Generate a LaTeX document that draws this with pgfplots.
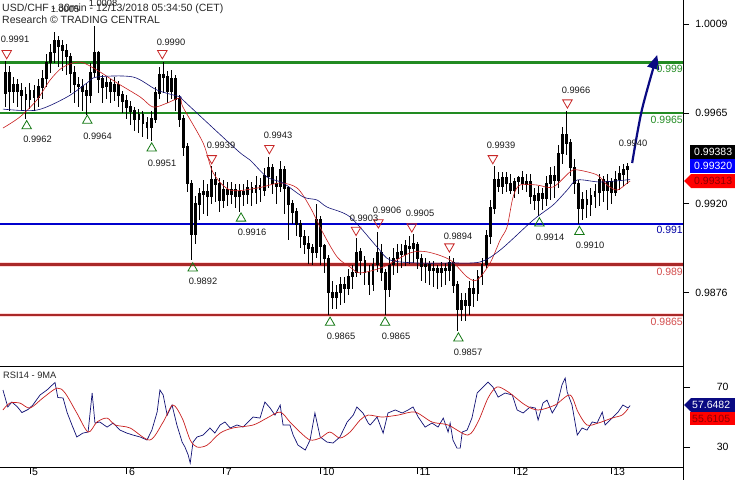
\documentclass[border=0pt]{standalone}
\usepackage{fontspec}
\setmainfont{Liberation Sans}
\usepackage{pgfplots}
\pgfplotsset{compat=1.18}
\usepackage{pgfplotstable}
\usetikzlibrary{arrows.meta}

\definecolor{lvlgreen}{RGB}{34,139,34}
\definecolor{lvlblue}{RGB}{0,0,205}
\definecolor{lvlred}{RGB}{170,40,40}
\definecolor{mared}{RGB}{200,30,30}
\definecolor{manavy}{RGB}{15,15,115}
\definecolor{trired}{RGB}{200,40,40}
\definecolor{trigreen}{RGB}{20,120,20}
\definecolor{arrnavy}{RGB}{10,10,130}
\newcommand\lbl{\fontsize{9.3}{10}\selectfont}
\newcommand\tck{\fontsize{10.5}{12}\selectfont}

% 1-hour bars, x = bar index (24 per trading day, 0 = start of the 5th)
\pgfplotstableread{
i o h l c
-6 0.9975 0.9991 0.9968 0.9985
-5 0.9985 0.9988 0.9966 0.9976
-4 0.9976 0.9983 0.9970 0.9979
-3 0.9979 0.9982 0.9968 0.9976
-2 0.9976 0.9980 0.9966 0.9974
-1 0.9974 0.9978 0.9962 0.9972
0 0.9972 0.9980 0.9967 0.9976
1 0.9976 0.9979 0.9966 0.9973
2 0.9973 0.9982 0.9968 0.9978
3 0.9978 0.9986 0.9972 0.9982
4 0.9982 0.9994 0.9978 0.9990
5 0.9990 0.9999 0.9985 0.9995
6 0.9995 1.0005 0.9990 1.0001
7 1.0001 1.0003 0.9988 0.9998
8 0.9998 1.0001 0.9986 0.9996
9 0.9996 0.9999 0.9984 0.9993
10 0.9993 0.9995 0.9975 0.9985
11 0.9985 0.9988 0.9970 0.9979
12 0.9979 0.9983 0.9968 0.9978
13 0.9978 0.9982 0.9966 0.9976
14 0.9976 0.9980 0.9964 0.9974
15 0.9974 0.9990 0.9970 0.9985
16 0.9985 1.0008 0.9983 0.9995
17 0.9995 0.9996 0.9975 0.9982
18 0.9982 0.9984 0.9970 0.9978
19 0.9978 0.9983 0.9972 0.9980
20 0.9980 0.9982 0.9970 0.9976
21 0.9976 0.9983 0.9971 0.9979
22 0.9979 0.9981 0.9968 0.9974
23 0.9974 0.9976 0.9965 0.9971
24 0.9971 0.9974 0.9962 0.9968
25 0.9968 0.9971 0.9959 0.9966
26 0.9966 0.9968 0.9956 0.9962
27 0.9962 0.9967 0.9955 0.9964
28 0.9964 0.9966 0.9953 0.9960
29 0.9960 0.9963 0.9952 0.9958
30 0.9958 0.9966 0.9951 0.9962
31 0.9962 0.9978 0.9960 0.9975
32 0.9975 0.9988 0.9972 0.9984
33 0.9984 0.9990 0.9975 0.9983
34 0.9983 0.9986 0.9970 0.9976
35 0.9976 0.9986 0.9972 0.9982
36 0.9982 0.9984 0.9966 0.9972
37 0.9972 0.9974 0.9958 0.9962
38 0.9962 0.9964 0.9944 0.9948
39 0.9948 0.9950 0.9926 0.9930
40 0.9930 0.9932 0.9892 0.9905
41 0.9905 0.9924 0.9900 0.9920
42 0.9920 0.9928 0.9912 0.9925
43 0.9925 0.9932 0.9915 0.9926
44 0.9926 0.9930 0.9914 0.9924
45 0.9924 0.9939 0.9920 0.9932
46 0.9932 0.9936 0.9921 0.9930
47 0.9930 0.9933 0.9916 0.9922
48 0.9922 0.9932 0.9918 0.9927
49 0.9927 0.9931 0.9919 0.9925
50 0.9925 0.9931 0.9920 0.9927
51 0.9927 0.9930 0.9918 0.9924
52 0.9924 0.9930 0.9916 0.9926
53 0.9926 0.9930 0.9919 0.9925
54 0.9925 0.9932 0.9920 0.9928
55 0.9928 0.9931 0.9919 0.9926
56 0.9926 0.9934 0.9920 0.9929
57 0.9929 0.9933 0.9921 0.9927
58 0.9927 0.9938 0.9924 0.9934
59 0.9934 0.9943 0.9928 0.9938
60 0.9938 0.9940 0.9925 0.9930
61 0.9930 0.9934 0.9920 0.9929
62 0.9929 0.9941 0.9926 0.9937
63 0.9937 0.9939 0.9915 0.9928
64 0.9928 0.9929 0.9902 0.9920
65 0.9920 0.9922 0.9910 0.9916
66 0.9916 0.9918 0.9904 0.9910
67 0.9910 0.9912 0.9898 0.9904
68 0.9904 0.9907 0.9895 0.9900
69 0.9900 0.9904 0.9890 0.9898
70 0.9898 0.9900 0.9890 0.9896
71 0.9896 0.9920 0.9893 0.9912
72 0.9912 0.9914 0.9890 0.9899
73 0.9899 0.9900 0.9886 0.9893
74 0.9893 0.9895 0.9865 0.9876
75 0.9876 0.9882 0.9868 0.9874
76 0.9874 0.9880 0.9868 0.9876
77 0.9876 0.9884 0.9870 0.9880
78 0.9880 0.9884 0.9871 0.9878
79 0.9878 0.9888 0.9875 0.9884
80 0.9884 0.9890 0.9878 0.9886
81 0.9886 0.9903 0.9884 0.9896
82 0.9896 0.9898 0.9885 0.9892
83 0.9892 0.9894 0.9880 0.9886
84 0.9886 0.9890 0.9875 0.9880
85 0.9880 0.9893 0.9877 0.9890
86 0.9890 0.9906 0.9886 0.9896
87 0.9896 0.9900 0.9882 0.9886
88 0.9886 0.9888 0.9865 0.9878
89 0.9878 0.9894 0.9874 0.9890
90 0.9890 0.9898 0.9885 0.9893
91 0.9893 0.9900 0.9886 0.9896
92 0.9896 0.9900 0.9888 0.9895
93 0.9895 0.9902 0.9889 0.9899
94 0.9899 0.9904 0.9890 0.9898
95 0.9898 0.9905 0.9891 0.9900
96 0.9900 0.9901 0.9888 0.9893
97 0.9893 0.9895 0.9882 0.9889
98 0.9889 0.9893 0.9881 0.9890
99 0.9890 0.9892 0.9880 0.9887
100 0.9887 0.9892 0.9879 0.9888
101 0.9888 0.9890 0.9878 0.9886
102 0.9886 0.9891 0.9879 0.9888
103 0.9888 0.9891 0.9880 0.9887
104 0.9887 0.9894 0.9882 0.9891
105 0.9891 0.9893 0.9876 0.9880
106 0.9880 0.9882 0.9857 0.9868
107 0.9868 0.9876 0.9862 0.9872
108 0.9872 0.9876 0.9862 0.9870
109 0.9870 0.9882 0.9865 0.9878
110 0.9878 0.9883 0.9869 0.9876
111 0.9876 0.9887 0.9872 0.9884
112 0.9884 0.9893 0.9880 0.9890
113 0.9890 0.9907 0.9888 0.9904
114 0.9904 0.9922 0.9900 0.9918
115 0.9918 0.9939 0.9915 0.9932
116 0.9932 0.9936 0.9926 0.9929
117 0.9929 0.9936 0.9925 0.9933
118 0.9933 0.9936 0.9926 0.9930
119 0.9930 0.9935 0.9925 0.9927
120 0.9927 0.9933 0.9923 0.9931
121 0.9931 0.9934 0.9925 0.9933
122 0.9933 0.9936 0.9927 0.9930
123 0.9930 0.9935 0.9926 0.9931
124 0.9931 0.9935 0.9920 0.9924
125 0.9924 0.9928 0.9917 0.9922
126 0.9922 0.9929 0.9914 0.9925
127 0.9925 0.9928 0.9917 0.9923
128 0.9923 0.9934 0.9919 0.9930
129 0.9930 0.9938 0.9922 0.9934
130 0.9934 0.9939 0.9923 0.9932
131 0.9932 0.9949 0.9928 0.9945
132 0.9945 0.9958 0.9940 0.9954
133 0.9954 0.9966 0.9944 0.9950
134 0.9950 0.9952 0.9934 0.9938
135 0.9938 0.9942 0.9925 0.9930
136 0.9930 0.9932 0.9910 0.9918
137 0.9918 0.9926 0.9912 0.9922
138 0.9922 0.9927 0.9913 0.9920
139 0.9920 0.9928 0.9914 0.9924
140 0.9924 0.9930 0.9918 0.9926
141 0.9926 0.9935 0.9919 0.9932
142 0.9932 0.9934 0.9921 0.9927
143 0.9927 0.9935 0.9917 0.9931
144 0.9931 0.9933 0.9920 0.9926
145 0.9926 0.9936 0.9924 0.9932
146 0.9932 0.9939 0.9927 0.9935
147 0.9935 0.9940 0.9929 0.9937
148 0.9937 0.9940 0.9930 0.99383
}\bars

\begin{document}
\begin{tikzpicture}[x=1pt,y=1pt]
\path[use as bounding box] (0,0) rectangle (735,-480);

% ---------- price panel ----------
\begin{axis}[
  at={(0,0)}, anchor=north west,
  scale only axis, width=683pt, height=366pt,
  xmin=-7.43, xmax=161.8, ymin=0.98397, ymax=1.00209,
  axis x line*=bottom, axis y line*=right,
  axis line style={-, black, line width=0.8pt},
  xtick=\empty,
  ytick={1.0009,0.9965,0.9920,0.9876},
  yticklabels={1.0009,0.9965,0.9920,0.9876},
  scaled y ticks=false,
  tick align=outside, major tick length=6pt,
  tick style={black, line width=0.8pt},
  yticklabel style={font=\tck, anchor=east, xshift=42pt},
]
% support / resistance levels
\addplot[lvlgreen, line width=2.2pt] coordinates {(-10,0.999) (170,0.999)};
\addplot[lvlgreen, line width=2.2pt] coordinates {(-10,0.9965) (170,0.9965)};
\addplot[lvlblue, line width=2.2pt] coordinates {(-10,0.991) (170,0.991)};
\addplot[red!15, line width=4.5pt] coordinates {(-10,0.989) (170,0.989)};
\addplot[lvlred, line width=2.2pt] coordinates {(-10,0.989) (170,0.989)};
\addplot[red!15, line width=4.5pt] coordinates {(-10,0.9865) (170,0.9865)};
\addplot[lvlred, line width=2.2pt] coordinates {(-10,0.9865) (170,0.9865)};

% wicks
\addplot[draw=none, mark=none, error bars/.cd, y dir=both, y explicit, error mark=none,
  error bar style={draw=black, line width=1pt}]
  table[x=i, y expr=(\thisrow{h}+\thisrow{l})/2, y error expr=(\thisrow{h}-\thisrow{l})/2] {\bars};
% bodies
\addplot[draw=none, mark=none, error bars/.cd, y dir=both, y explicit, error mark=none,
  error bar style={draw=black, line width=2.9pt, line cap=butt}]
  table[x=i, y expr=(\thisrow{o}+\thisrow{c})/2, y error expr=abs(\thisrow{c}-\thisrow{o})/2+0.00004] {\bars};

% moving averages
\addplot[mared, line width=0.6pt, smooth, mark=none] coordinates {
(-6.7,0.99575) (-2.5,0.99630) (1.7,0.99714) (5,0.99813) (8.2,0.99877) (12.4,0.99902)
(16.6,0.99862) (21.6,0.99798) (27.3,0.99729) (30.5,0.99679) (34,0.99699) (37.2,0.99724)
(37.9,0.99679) (42.9,0.99501) (45.4,0.99353) (49.6,0.99268) (56.3,0.99278) (62,0.99303)
(66.2,0.99278) (69.4,0.99184) (72.6,0.99056) (76.1,0.98937) (79.3,0.98887) (81.8,0.98858)
(87.5,0.98887) (94.2,0.98957) (98.4,0.98962) (104.1,0.98922) (108.3,0.98838) (110.8,0.98823)
(114,0.98907) (116.5,0.99021) (118.2,0.99085) (119.7,0.99234) (121.4,0.99293) (125.6,0.99293)
(129.6,0.99283) (133.8,0.99358) (135.6,0.99368) (140.5,0.99343) (143,0.99293) (145.5,0.99268)
(148,0.99303) (148.7,0.99313)};
\addplot[manavy, line width=0.6pt, smooth, mark=none] coordinates {
(-6.7,0.99669) (1.7,0.99664) (9.2,0.99729) (14.1,0.99798) (16.6,0.99828) (25.5,0.99828)
(31.5,0.99763) (37.2,0.99729) (37.9,0.99714) (51.3,0.99466) (54.5,0.99417) (58.7,0.99333)
(62.7,0.99303) (67.7,0.99234) (71.1,0.99219) (73.6,0.99184) (79.3,0.99135) (86,0.98986)
(89.2,0.98922) (95.9,0.98907) (104.1,0.98907) (111.5,0.98912) (116.5,0.98971) (124.7,0.99120)
(129.6,0.99194) (133.1,0.99268) (135.6,0.99318) (141.3,0.99308) (148.7,0.99320)};

% swing highs / lows
\addplot[only marks, mark=triangle, mark size=5.5pt, trigreen, mark options={line width=0.8pt}] coordinates {
(-0.82,0.99585) (14.2,0.99612) (30.16,0.99475) (40.32,0.98881) (52.29,0.99128)
(74.35,0.98612) (87.98,0.98612) (106.15,0.98534) (126.22,0.99104) (136.13,0.99062)};
\addplot[only marks, mark=triangle, mark size=5.5pt, trired, mark options={rotate=180, line width=0.8pt}] coordinates {
(-5.77,0.99945) (32.79,0.99945) (45.03,0.99425) (59.31,0.99475) (80.79,0.99070)
(86.32,0.99107) (94.60,0.99087) (103.92,0.98988) (114.67,0.99425) (133.16,0.99701)};

% projected path
\addplot[arrnavy, line width=2.2pt, smooth, mark=none, -{Triangle[width=12pt,length=14pt]}]
  coordinates {(149.2,0.99402) (151.6,0.99664) (155.4,0.99937)};
\end{axis}

% ---------- RSI panel ----------
\begin{axis}[
  at={(0,-366pt)}, anchor=north west,
  scale only axis, width=683pt, height=101pt,
  xmin=-7.43, xmax=161.8, ymin=16.7, ymax=84,
  axis x line*=box, axis y line*=right,
  axis line style={-, black, line width=0.8pt},
  xtick={0,24,48,72,96,120,144}, xticklabels={5,6,7,10,11,12,13},
  xtick pos=bottom, ytick pos=right,
  ytick={30,70},
  tick align=outside, major tick length=7pt,
  tick style={black, line width=0.8pt},
  xticklabel style={font=\tck, anchor=north west, inner sep=1pt, yshift=7pt, xshift=1pt},
  yticklabel style={font=\tck, anchor=east, xshift=42pt},
  /pgf/number format/assume math mode=true,
]
\addplot[manavy, line width=0.7pt, mark=none] coordinates {
(-6.7,68) (-5.5,56.7) (-4.5,60) (-3.2,57) (-2,53) (-0.5,55) (0.7,58) (2.5,64.7) (4.2,68)
(5.5,71.3) (6.2,73) (6.9,63) (8.2,62.7) (9.2,53) (10.4,44.7) (11.6,36.7) (13.1,39.3) (14.4,40)
(15.4,66) (16.1,46) (17.3,46.7) (19.1,43.3) (20.6,46) (22.3,41.3) (24,39.3) (25.5,38) (27.3,36.7)
(29,34.7) (30.2,41.3) (31.5,53.3) (32.2,68) (33,64.7) (34,51.3) (35.2,58) (36.4,44.7) (37.7,33.3)
(38.4,30) (39.2,24.7) (39.7,19.3) (40.4,33.3) (41.4,36.7) (42.9,38) (44.6,42.7) (45.8,39.3)
(47.1,44.7) (48.3,46.7) (49.6,42.7) (51.3,44.7) (52.8,43.3) (55.3,50) (57,49.3) (58.2,60) (59.5,56)
(60.7,51.3) (62,58) (62.7,44.7) (64.4,44.7) (65.2,38) (66.4,31.3) (68.2,28) (69.4,34.7) (70.6,52.7)
(71.9,36.7) (73.6,33.3) (75.1,32.7) (76.8,36.7) (78.6,46.7) (80.1,51.3) (81,56.7) (82.5,52.7)
(83.8,46) (84.3,44.7) (86,50) (87.5,39.3) (88.7,52.7) (90.5,54.7) (92.2,52.7) (93.7,54.7)
(94.9,56.7) (96.2,50) (97.9,43.3) (99.6,46) (101.1,43.3) (102.4,49.3) (103.6,40) (104.1,46)
(104.8,34.7) (105.8,29.3) (106.6,29.3) (107.1,40) (108.3,41.3) (109.5,49.3) (110.8,66) (112,69.3)
(113.5,73.3) (114.7,70) (116,63.3) (117.7,66) (119.5,64.7) (120.7,54.7) (122.2,52.7) (123.9,56.7)
(125.2,56) (125.9,48) (127.1,59.3) (128.1,61.3) (129.4,52.7) (130.6,58) (131.8,71.3) (132.6,76)
(133.1,66.7) (134.3,58) (135.6,38) (136.8,42.7) (138,41.3) (139.3,46.7) (140.5,46) (141.8,53.3)
(142.5,44.7) (144.2,49.3) (145.7,53.3) (146.9,58) (148.2,56) (148.7,57.65)};
\addplot[mared, line width=0.7pt, smooth, mark=none] coordinates {
(-6.7,54.7) (-5,59.3) (-2.5,59.3) (0,56) (3.2,62.7) (6.7,69.3) (8.7,66) (11.6,52.7) (14.4,40)
(16.6,46.7) (19.1,49.3) (21.1,44.7) (24.8,42.7) (29.7,34.7) (33,46.7) (35.4,58) (37.7,49.3)
(39.7,34.7) (41.4,30) (43.9,31.3) (47.1,39.3) (50.3,42.7) (55.3,44.7) (58.7,49.3) (62,53.3)
(64.4,46.7) (66.9,40) (69.4,34.7) (71.9,36) (74.3,40) (76.8,36) (79.3,40) (81.8,48) (83.8,51.3)
(87.2,50) (91.2,51.3) (95.4,53.3) (99.6,46.7) (103.6,44.7) (108.5,38) (111,46.7) (113.5,62.7)
(115.7,70) (118.5,66.7) (122.7,58) (125.9,54.7) (130.1,58) (133.8,64.7) (135.8,53.3) (138,44.7)
(140.8,46) (144.2,49.3) (146.7,51.3) (148.2,55.61)};
\end{axis}

\draw[black, line width=0.8pt] (683,0) -- (683,-480);

% ---------- texts ----------
\node[anchor=base west, inner sep=0, font=\fontsize{10.5}{12}\selectfont, text=black!85] at (2,-11) {USD/CHF - 30min - 12/13/2018 05:34:50 (CET)};
\node[anchor=base west, inner sep=0, font=\fontsize{10.5}{12}\selectfont, text=black!85] at (2,-23) {Research © TRADING CENTRAL};
\node[anchor=base west, inner sep=0, font=\fontsize{9.3}{10}\selectfont, text=black!85] at (3,-378) {RSI14 - 9MA};

\begin{scope}[every node/.style={inner sep=0, font=\lbl, text=black!90}]
\node at (65,-9) {1.0005};
\node at (103,-3.5) {1.0008};
\node at (15,-39) {0.9991};
\node at (171,-42.5) {0.9990};
\node at (221,-145.5) {0.9939};
\node at (278,-135.5) {0.9943};
\node at (364,-218.5) {0.9903};
\node at (387,-210) {0.9906};
\node at (420,-213.5) {0.9905};
\node at (458,-236) {0.9894};
\node at (501,-145.5) {0.9939};
\node at (576,-90.5) {0.9966};
\node at (633,-143.5) {0.9940};
\node at (37.5,-139) {0.9962};
\node at (97.5,-136) {0.9964};
\node at (162,-163) {0.9951};
\node at (203,-281.5) {0.9892};
\node at (252,-232.5) {0.9916};
\node at (341,-336.5) {0.9865};
\node at (396,-336.5) {0.9865};
\node at (468,-352) {0.9857};
\node at (550,-237) {0.9914};
\node at (590,-245) {0.9910};
\end{scope}

\begin{scope}[every node/.style={inner sep=0, font=\tck, anchor=base east}]
\node[text=lvlgreen] at (683,-72) {0.999};
\node[text=lvlgreen] at (683,-123) {0.9965};
\node[text=lvlblue!80!black] at (683,-233) {0.991};
\node[text=red!75!black!70] at (683,-275) {0.989};
\node[text=red!75!black!70] at (683,-325) {0.9865};
\end{scope}

% last-value tags
\fill[black] (690,-145) rectangle (740,-159);
\node[anchor=west, inner sep=0, font=\tck, text=white] at (694,-152) {0.99383};
\fill[blue] (690,-159) rectangle (740,-173);
\node[anchor=west, inner sep=0, font=\tck, text=white] at (694,-166) {0.99320};
\fill[red] (684,-181) -- (691,-174) -- (740,-174) -- (740,-188) -- (691,-188) -- cycle;
\node[anchor=west, inner sep=0, font=\tck, text={rgb,255:red,140;green,0;blue,0}] at (694,-181) {0.99313};
\fill[arrnavy] (684,-405) -- (691,-398) -- (740,-398) -- (740,-412) -- (691,-412) -- cycle;
\node[anchor=west, inner sep=0, font=\tck, text=white] at (692,-405) {57.6482};
\fill[red] (690,-412) rectangle (740,-425);
\node[anchor=west, inner sep=0, font=\tck, text={rgb,255:red,140;green,0;blue,0}] at (692,-418.5) {55.6105};
\end{tikzpicture}
\end{document}
